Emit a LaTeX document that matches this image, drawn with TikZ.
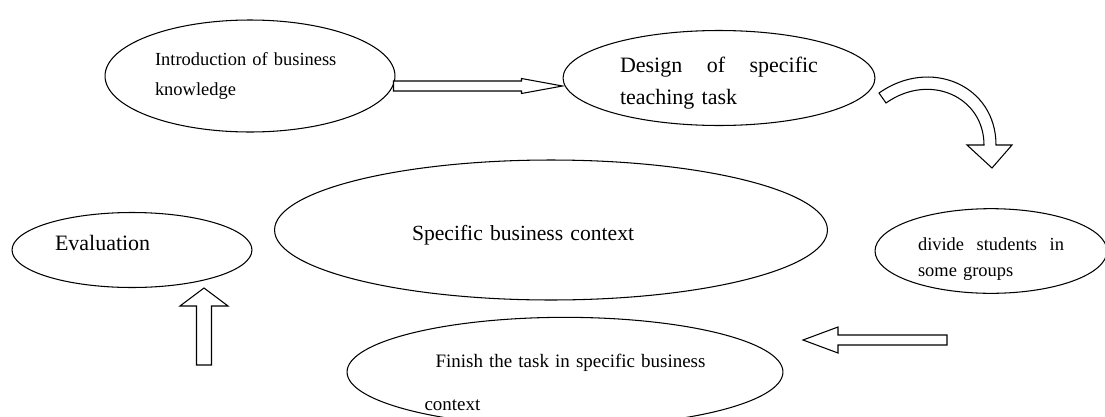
\documentclass[tikz,border=0pt]{standalone}
\usepackage{fontspec}
\setmainfont{Liberation Serif}
\usetikzlibrary{shapes.geometric,positioning,calc}

% outlined block arrow: tail, tip, half shaft, half head, head length
\newcommand{\hollowarrow}[5]{%
  \coordinate (hb) at ($(#2)!#5!(#1)$);
  \draw[hollow] ($(#1)!#3!90:(#2)$) -- ($(hb)!#3!90:(#2)$) -- ($(hb)!#4!90:(#2)$) -- (#2)
    -- ($(hb)!#4!-90:(#2)$) -- ($(hb)!#3!-90:(#2)$) -- ($(#1)!#3!-90:(#2)$) -- cycle;
}

\begin{document}
\begin{tikzpicture}[
  x=0.02cm, y=-0.02cm,
  ell/.style={ellipse, draw, line width=0.6pt, inner sep=0pt, align=left},
  hollow/.style={draw, fill=white, line width=0.6pt, line join=miter}
]
\useasboundingbox (0,0) rectangle (1105,416);

% Stages
\node[ell, minimum width=5.8cm, minimum height=2.24cm, text width=3.8cm,
  font={\fontsize{10.5}{17.6}\selectfont}] (intro) at (250,76)
  {Introduction of business\\knowledge};
\node[ell, minimum width=6.24cm, minimum height=1.9cm, text width=3.96cm,
  text height=15pt, font={\fontsize{12.5}{18.2}\selectfont}] (design) at (719,78)
  {\hbox to 3.96cm{Design\hfill of\hfill specific}\\teaching task};
\node[ell, minimum width=11.06cm, minimum height=2.8cm, text width=5.56cm,
  text height=14pt, font={\fontsize{12.3}{15}\selectfont}] (context) at (551,230)
  {Specific business context};
\node[ell, minimum width=4.8cm, minimum height=1.5cm, text width=3.08cm,
  text depth=8pt, font={\fontsize{12.5}{15}\selectfont}] (eval) at (132,250)
  {Evaluation};
\node[ell, minimum width=4.64cm, minimum height=1.64cm, text width=2.92cm,
  text height=17pt, font={\fontsize{10.5}{14.8}\selectfont}] (groups) at (991,251)
  {\hbox to 2.92cm{divide\hfill students\hfill in}\\some groups};
\node[ell, minimum width=8.72cm, minimum height=1.8cm, text width=5.62cm,
  text height=19.5pt, font={\fontsize{10.8}{24.4}\selectfont}] (finish) at (565,372)
  {\hspace*{0.22cm}\hbox to 5.4cm{Finish\hfil the\hfil task\hfil in\hfil specific\hfil business}\\context};

% Arrow ends
\coordinate (a1s) at ($(intro.east)+(-2,10)$);
\coordinate (a1e) at ($(design.west)+(0,8)$);
\coordinate (a2s) at (947,340);
\coordinate (a2e) at (803,340);
\coordinate (a3s) at (204,365);
\coordinate (a3e) at (204,288);

% Arrows
\hollowarrow{a1s}{a1e}{0.1cm}{0.15cm}{0.82cm}
\draw[hollow] (879,93) .. controls (930,57) and (996,85) .. (996,145)
  -- (1012,145) -- (992,168) -- (967,145) -- (984,145)
  .. controls (984,97) and (930,72) .. (886,103) -- cycle;
\hollowarrow{a2s}{a2e}{0.1cm}{0.26cm}{0.7cm}
\hollowarrow{a3s}{a3e}{0.15cm}{0.48cm}{0.36cm}

\end{tikzpicture}
\end{document}
